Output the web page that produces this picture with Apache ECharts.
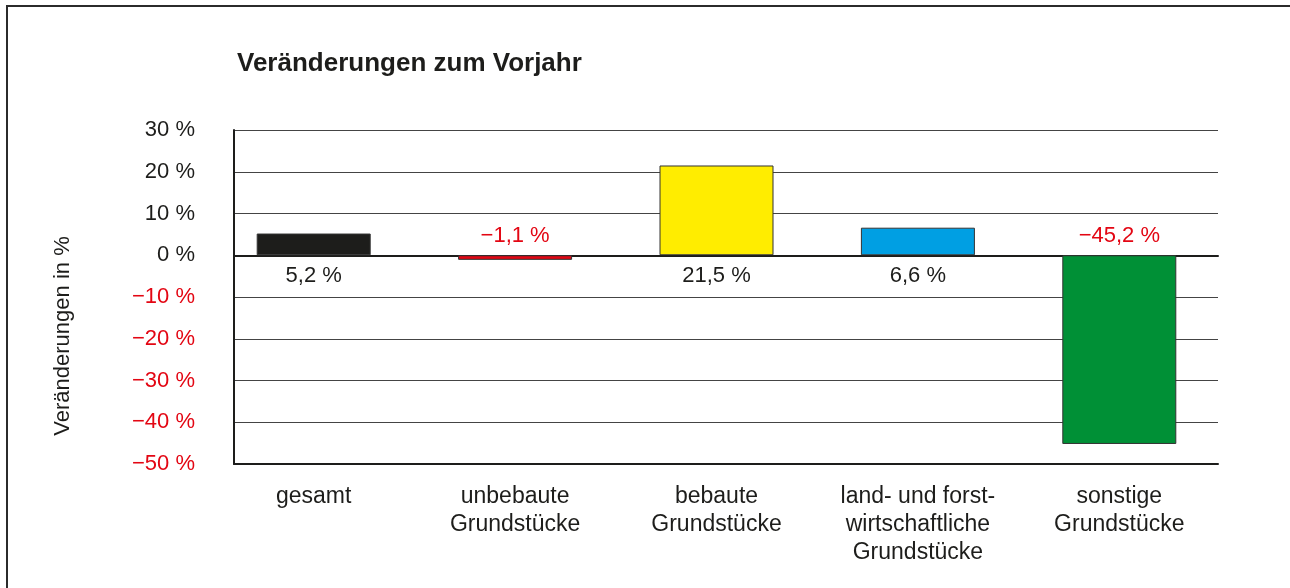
<!DOCTYPE html>
<html>
<head>
<meta charset="utf-8">
<script src="https://cdn.jsdelivr.net/npm/echarts@6/dist/echarts.min.js"></script>
<style>
  html, body { margin: 0; padding: 0; background: #fff; }
  #main { width: 1290px; height: 588px; }
</style>
</head>
<body>
<div id="main"></div>
<script>
const categories = [
  "gesamt",
  "unbebaute\nGrundstücke",
  "bebaute\nGrundstücke",
  "land- und forst-\nwirtschaftliche\nGrundstücke",
  "sonstige\nGrundstücke",
];
const changes = [5.2, -1.1, 21.5, 6.6, -45.2];
const barColors = ["#1d1d1b", "#e30613", "#ffed00", "#009fe3", "#009036"];
const yTicks = { min: -50, max: 30, step: 10 };

const FONT = "'Liberation Sans', Arial, Helvetica, sans-serif";
const RED = "#e30613";
const INK = "#1d1d1b";

// negative values carry a minus sign, german decimal comma
const fmt = (v) => (v < 0 ? "\u2212" : "") + Math.abs(v).toFixed(1).replace(".", ",") + " %";

const chart = echarts.init(document.getElementById("main"));

const option = {
  animation: false,
  textStyle: { fontFamily: FONT },
  title: {
    text: "Veränderungen zum Vorjahr",
    left: 232,
    top: 46,
    textStyle: { fontFamily: FONT, fontSize: 26, fontWeight: "bold", color: INK },
  },
  graphic: [
    {
      type: "rect",
      shape: { x: 7, y: 6, width: 1400, height: 700 },
      style: { fill: "none", stroke: "#2b2b2b", lineWidth: 2 },
      silent: true,
    },
    {
      type: "text",
      x: 63,
      y: 336,
      rotation: Math.PI / 2,
      style: {
        text: "Veränderungen in %",
        font: "22px " + FONT,
        fill: INK,
        align: "center",
        verticalAlign: "middle",
        textAlign: "center",
        textVerticalAlign: "middle",
      },
    },
  ],
  grid: [
    { left: 234, right: 72, top: 130, bottom: 124 },
    { left: 213, right: 70, top: 130, bottom: 124 },
  ],
  xAxis: [
    {
      gridIndex: 0, type: "value", min: 0, max: 1, position: "bottom",
      axisLine: { onZero: false, lineStyle: { color: INK, width: 2 } },
      axisTick: { show: false }, axisLabel: { show: false }, splitLine: { show: false },
    },
    {
      gridIndex: 0, type: "value", min: 0, max: 1, position: "top",
      axisLine: { onZero: true, lineStyle: { color: INK, width: 2 } },
      axisTick: { show: false }, axisLabel: { show: false }, splitLine: { show: false },
    },
    {
      gridIndex: 1, type: "category", data: categories, position: "bottom",
      axisLine: { show: false, onZero: false },
      axisTick: { show: false },
      axisLabel: {
        margin: 19, fontSize: 23, lineHeight: 28, color: INK, fontFamily: FONT,
        interval: 0, align: "center",
      },
    },
  ],
  yAxis: [
    {
      gridIndex: 0, type: "value",
      min: yTicks.min, max: yTicks.max, interval: yTicks.step,
      axisLine: { show: true, lineStyle: { color: INK, width: 2 } },
      axisTick: { show: false },
      axisLabel: {
        margin: 39, fontSize: 22, fontFamily: FONT,
        formatter: (v) => (v < 0 ? "\u2212" : "") + Math.abs(v) + " %",
        color: (v) => (v < 0 ? RED : INK),
      },
      splitLine: { lineStyle: { color: "#444", width: 1 } },
    },
    {
      gridIndex: 1, type: "value",
      min: yTicks.min, max: yTicks.max, interval: yTicks.step,
      show: false, splitLine: { show: false },
    },
  ],
  series: [
    {
      type: "bar",
      xAxisIndex: 2,
      yAxisIndex: 1,
      barWidth: 114,
      data: changes.map((v, i) => ({
        value: v,
        itemStyle: { color: barColors[i], borderColor: "#333", borderWidth: 1 },
      })),
      z: 3,
    },
    {
      // value labels sit on the zero line: positives below, negatives above
      type: "scatter",
      xAxisIndex: 2,
      yAxisIndex: 1,
      symbolSize: 0,
      itemStyle: { opacity: 1 },
      data: changes.map((v, i) => ({
        value: [i, 0],
        label: {
          show: true,
          position: v < 0 ? "top" : "bottom",
          distance: v < 0 ? 8 : 10,
          formatter: fmt(v),
          color: v < 0 ? RED : INK,
          opacity: 1,
          fontSize: 22,
          fontFamily: FONT,
        },
      })),
      z: 4,
    },
  ],
};

chart.setOption(option);
</script>
</body>
</html>
